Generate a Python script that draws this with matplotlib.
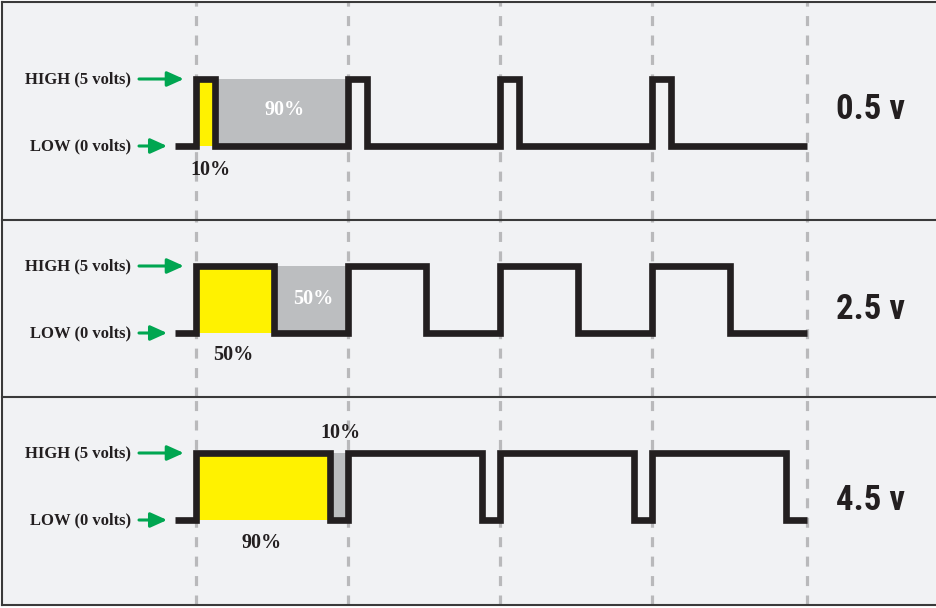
import matplotlib
matplotlib.use("Agg")
import matplotlib.pyplot as plt
from matplotlib.lines import Line2D

# data
voltages = ["0.5 v", "2.5 v", "4.5 v"]
duty_labels = [("10%", "90%"), ("50%", "50%"), ("90%", "10%")]
high_time = [0.125, 0.51, 0.88]      # fraction of the period spent HIGH (as drawn)
cycle_starts = [0, 1, 2, 3]
wave_start, wave_end = -0.14, 4.02
low_v, high_v = 0, 5

# layout (pixels from top of the 936x608 canvas)
W, H = 936, 608
x0_px, t0_px, per_px = 2, 196, 152
px_per_volt = 13.4
panels = [(2, 219.5, 146), (219.5, 396.7, 333), (396.7, 605, 520)]  # top, bottom, low line

# where the percentage labels sit: (x, y) in (period, volt) units
on_pos = [(0.092, -1.79, "k"), (0.243, -1.64, "k"), (0.434, -1.72, "k")]
off_pos = [(0.582, 2.69, "w"), (0.77, 2.54, "w"), (0.947, 6.49, "k")]
volt_y = [2.69, 1.72, 1.49]

bg = "#f1f2f4"
ink = "#231f20"
yellow = "#fff200"
grey = "#bcbec0"
green = "#00a651"
dash_col = "#b9b9bb"
serif = ["Liberation Serif", "DejaVu Serif"]
narrow = ["Roboto Condensed", "DejaVu Sans"]

plt.rcParams["lines.scale_dashes"] = False
fig = plt.figure(figsize=(W / 100, H / 100), dpi=100)
fig.patch.set_facecolor("white")

xlim = ((x0_px - t0_px) / per_px, (W - t0_px) / per_px)
arrow = dict(arrowstyle="-|>,head_length=1.0,head_width=0.45",
             color=green, lw=2.2, shrinkA=0, shrinkB=0)
axes = []
for i, (top, bot, low_px) in enumerate(panels):
    ax = fig.add_axes([x0_px / W, 1 - bot / H, (W - x0_px) / W, (bot - top) / H])
    ax.set_facecolor(bg)
    ax.set_xlim(*xlim)
    ax.set_ylim(-(bot - low_px) / px_per_volt, (low_px - top) / px_per_volt)
    ax.axis("off")
    ax.add_patch(plt.Rectangle((0, 0), 1, 1, transform=ax.transAxes, color=bg, zorder=0))
    axes.append(ax)

    # dashed period markers
    for c in cycle_starts + [wave_end]:
        ax.axvline(c, color=dash_col, lw=2.3, dashes=(7.2, 6.8), zorder=1)

    d = high_time[i]
    # first cycle shading
    ax.fill_between([0, d], low_v, high_v, color=yellow, lw=0, zorder=2)
    ax.fill_between([d, 1], low_v, high_v, color=grey, lw=0, zorder=2)

    # square wave
    xs, ys = [wave_start, 0], [low_v, low_v]
    for c in cycle_starts:
        xs += [c, c, c + d, c + d]
        ys += [low_v, high_v, high_v, low_v]
    xs.append(wave_end)
    ys.append(low_v)
    ax.plot(xs, ys, color=ink, lw=4.8, solid_joinstyle="miter",
            solid_capstyle="butt", zorder=4)

    # left labels and arrows
    ax.text(-0.428, high_v, "HIGH (5 volts)", ha="right", va="center",
            fontsize=12, fontweight="bold", family=serif, color=ink, zorder=5)
    ax.text(-0.428, low_v, "LOW (0 volts)", ha="right", va="center",
            fontsize=12, fontweight="bold", family=serif, color=ink, zorder=5)
    ax.annotate("", xy=(-0.08, high_v), xytext=(-0.375, high_v), arrowprops=arrow, zorder=5)
    ax.annotate("", xy=(-0.19, low_v), xytext=(-0.375, low_v), arrowprops=arrow, zorder=5)

    # percentages
    ox, oy, oc = on_pos[i]
    ax.text(ox, oy, duty_labels[i][0], ha="center", va="center", fontsize=14.5,
            fontweight="bold", family=serif, color=ink if oc == "k" else "white", zorder=5)
    fx, fy, fc = off_pos[i]
    ax.text(fx, fy, duty_labels[i][1], ha="center", va="center", fontsize=14.5,
            fontweight="bold", family=serif, color=ink if fc == "k" else "white", zorder=5)

    # voltage label
    ax.text(4.44, volt_y[i], voltages[i], ha="center", va="center", fontsize=25,
            fontweight="bold", family=narrow, color=ink, zorder=5)

# panel borders
bc = "#3a3a3a"
for yb in [2, 219.5, 396.7, 605]:
    fig.add_artist(Line2D([x0_px / W, 1], [1 - yb / H, 1 - yb / H],
                          transform=fig.transFigure, color=bc, lw=1.5))
fig.add_artist(Line2D([x0_px / W, x0_px / W], [1 - 2 / H, 1 - 605 / H],
                      transform=fig.transFigure, color=bc, lw=1.5))

fig.savefig("out.png", dpi=100, facecolor="white")
